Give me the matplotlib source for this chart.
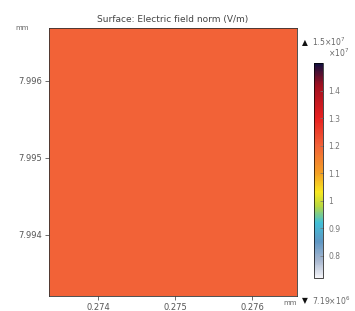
import numpy as np
import matplotlib
matplotlib.use("Agg")
import matplotlib.pyplot as plt
from matplotlib.colors import LinearSegmentedColormap, Normalize

# field values (x1e7 V/m), nearly uniform over the surface
x_extent = [0.27336, 0.27658]   # mm
y_extent = [7.99321, 7.99668]   # mm
field = np.array([[1.20, 1.20],
                  [1.20, 1.20]])
vmin, vmax = 0.719, 1.5

x_ticks = [0.274, 0.275, 0.276]
y_ticks = [7.994, 7.995, 7.996]
cb_ticks = [0.8, 0.9, 1.0, 1.1, 1.2, 1.3, 1.4]
cb_labels = ['0.8', '0.9', '1', '1.1', '1.2', '1.3', '1.4']

# rainbow-like colormap
stops = [0.719, 0.78, 0.85, 0.92, 0.98, 1.03, 1.1, 1.2, 1.3, 1.42, 1.5]
cols = ['#f4f4f8', '#a9b8d0', '#5f97c4', '#40c0d8', '#b8d840', '#f8e820',
        '#f4a024', '#f26238', '#e82020', '#a01020', '#101040']
pos = [(s - vmin) / (vmax - vmin) for s in stops]
cmap = LinearSegmentedColormap.from_list('rb', list(zip(pos, cols)))

fig = plt.figure(figsize=(3.55, 3.11), dpi=100)
W, H = 355, 311
ax = fig.add_axes([49 / W, 1 - 296 / H, 248 / W, 268 / H])
ax.imshow(field, cmap=cmap, vmin=vmin, vmax=vmax, origin='lower',
          extent=x_extent + y_extent, aspect='auto', interpolation='nearest')
ax.set_xticks(x_ticks)
ax.set_xticklabels([f'{t:.3f}' for t in x_ticks])
ax.set_yticks(y_ticks)
ax.set_yticklabels([f'{t:.3f}' for t in y_ticks])
ax.tick_params(labelsize=6, colors='#555555', length=3, width=0.6,
               direction='out', pad=2)
for s in ax.spines.values():
    s.set_linewidth(0.6)
    s.set_color('#333333')
ax.set_title('Surface: Electric field norm (V/m)', fontsize=6.5,
             color='#444444', pad=4)
fig.text(22 / W, 1 - 28 / H, 'mm', fontsize=5, color='#666666',
         ha='center', va='center')
fig.text(290 / W, 1 - 303 / H, 'mm', fontsize=5, color='#666666',
         ha='center', va='center')

# colorbar
cax = fig.add_axes([314 / W, 1 - 278 / H, 9 / W, 215 / H])
sm = plt.cm.ScalarMappable(norm=Normalize(vmin, vmax), cmap=cmap)
cb = fig.colorbar(sm, cax=cax)
cb.set_ticks(cb_ticks)
cb.set_ticklabels(cb_labels)
cb.ax.tick_params(labelsize=5.5, colors='#777777', length=2, width=0.5,
                  direction='in', pad=4)
cb.outline.set_linewidth(0.5)
fig.text(302 / W, 1 - 43 / H, '▲', fontsize=5.5, color='#111111',
         ha='left', va='center')
fig.text(312 / W, 1 - 42 / H, r'1.5$\times$10$^7$', fontsize=5.5,
         color='#666666', ha='left', va='center')
fig.text(349 / W, 1 - 53 / H, r'$\times$10$^7$', fontsize=5.5,
         color='#666666', ha='right', va='center')
fig.text(302 / W, 1 - 301 / H, '▼', fontsize=5.5, color='#111111',
         ha='left', va='center')
fig.text(312 / W, 1 - 301 / H, r'7.19$\times$10$^6$', fontsize=5.5,
         color='#666666', ha='left', va='center')

fig.savefig('out.png', dpi=100)
